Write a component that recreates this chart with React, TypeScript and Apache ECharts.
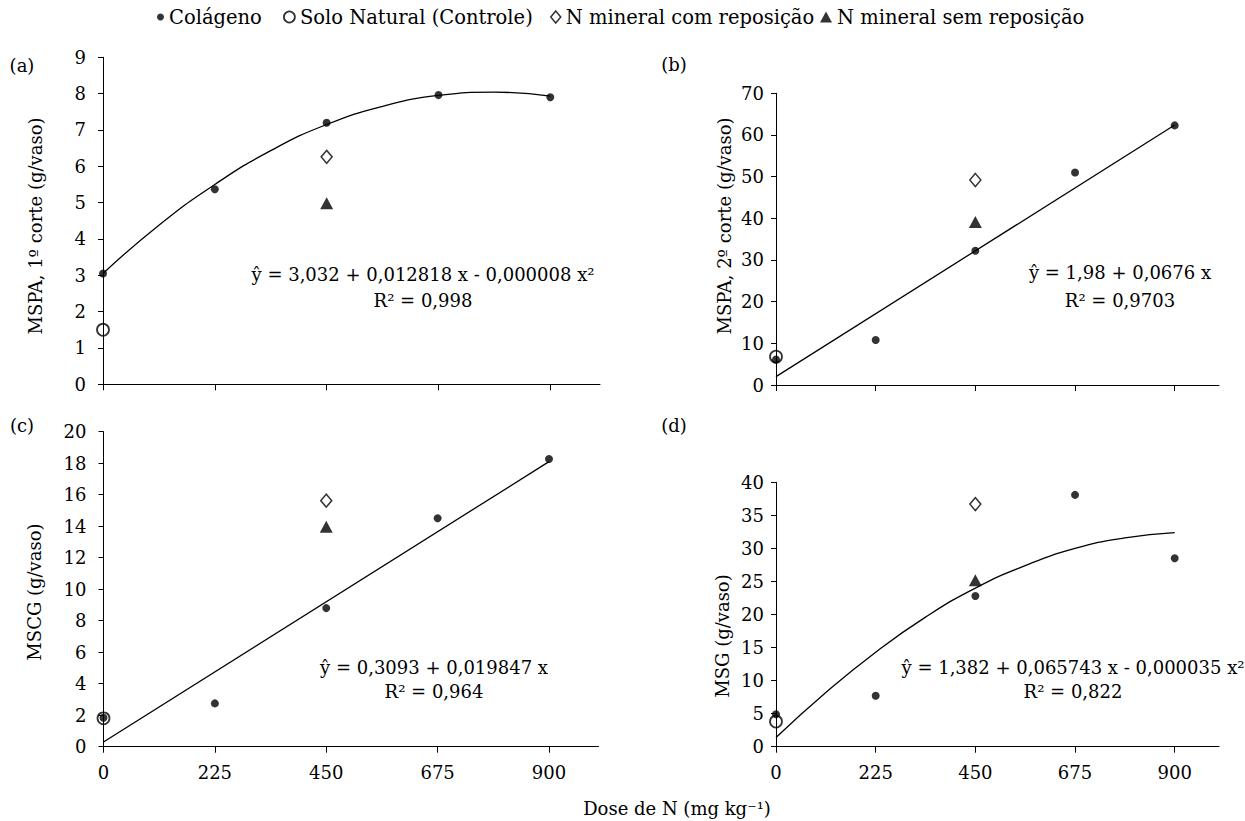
import React, { useEffect, useRef } from "react";
import * as echarts from "echarts";

// ---------- data ----------
const doses = [0, 225, 450, 675, 900];
const colagenoA = [3.05, 5.37, 7.2, 7.96, 7.9];
const colagenoB = [6.1, 10.8, 32.2, 51.0, 62.3];
const colagenoC = [1.84, 2.75, 8.8, 14.5, 18.27];
const colagenoD = [4.9, 7.7, 22.8, 38.1, 28.5];
const soloNatural = [1.5, 6.8, 1.8, 3.8]; // dose 0, panels a-d
const comReposicao = [6.26, 49.2, 15.62, 36.7]; // dose 450
const semReposicao = [4.98, 39.1, 13.97, 25.2]; // dose 450
const controlDose = 0;
const mineralDose = 450;

const trendDoses = [0, 112.5, 225, 337.5, 450, 562.5, 675, 787.5, 900];
const trendA = [3.05, 4.38, 5.5, 6.43, 7.15, 7.65, 7.95, 8.04, 7.93];
const trendD = [1.4, 8.2, 14.3, 19.6, 24.0, 27.4, 30.0, 31.6, 32.4];
const trendLinDoses = [0, 900];
const trendB = [2.0, 62.4];
const trendC = [0.3, 18.1];

const xTicks = [0, 225, 450, 675, 900];
const xMax = 1000;
const yMax = [9, 70, 20, 40];
const yStep = [1, 10, 2, 5];

const seriesNames = [
  "Colágeno",
  "Solo Natural (Controle)",
  "N mineral com reposição",
  "N mineral sem reposição",
];
const panelLetters = ["(a)", "(b)", "(c)", "(d)"];
const yNames = [
  "MSPA, 1º corte (g/vaso)",
  "MSPA, 2º corte (g/vaso)",
  "MSCG (g/vaso)",
  "MSG (g/vaso)",
];
const equations = [
  "ŷ = 3,032 + 0,012818 x - 0,000008 x²",
  "ŷ = 1,98 + 0,0676 x",
  "ŷ = 0,3093 + 0,019847 x",
  "ŷ = 1,382 + 0,065743 x - 0,000035 x²",
];
const r2Texts = ["R² = 0,998", "R² = 0,9703", "R² = 0,964", "R² = 0,822"];
const xTitle = "Dose de N (mg kg⁻¹)";

// ---------- layout ----------
const FONT = "DejaVu Serif";
const grids = [
  { left: 103, top: 57.3, width: 497, height: 327 },
  { left: 776, top: 93.3, width: 443, height: 291.7 },
  { left: 103.5, top: 431.7, width: 495, height: 315 },
  { left: 776, top: 482.3, width: 443, height: 264.4 },
];
const yLabelMargin = [17, 12, 17, 12];
const letterPos = [
  [22, 65],
  [674, 64],
  [22, 425],
  [674, 425],
];
const yNamePos = [
  [35, 226],
  [724, 226],
  [34, 592],
  [722, 636],
];
const eqPos = [
  [423, 274, 300],
  [1120, 272, 300],
  [434, 667, 691],
  [1073, 667, 691],
];
const legendLeft = [157, 283, 550, 820];
const legendSize = [
  [7, 7],
  [11, 11],
  [10, 12],
  [12, 11],
];

function pairs(xs: number[], ys: number[]) {
  return xs.map((x, i) => [x, ys[i]]);
}

export default function App() {
  const ref = useRef<HTMLDivElement>(null);

  useEffect(() => {
    if (!ref.current) return;
    const chart = echarts.init(ref.current, undefined, { renderer: "svg" });

    const colagenos = [colagenoA, colagenoB, colagenoC, colagenoD];
    const trends = [
      pairs(trendDoses, trendA),
      pairs(trendLinDoses, trendB),
      pairs(trendLinDoses, trendC),
      pairs(trendDoses, trendD),
    ];
    const smooths = [true, false, false, true];

    const styles = [
      { symbol: "circle", symbolSize: 8, itemStyle: { color: "#000" } },
      {
        symbol: "circle",
        symbolSize: 12,
        itemStyle: { color: "rgba(0,0,0,0)", borderColor: "#000", borderWidth: 1.8 },
      },
      {
        symbol: "diamond",
        symbolSize: [11, 13],
        itemStyle: { color: "#fff", borderColor: "#000", borderWidth: 1.5 },
      },
      { symbol: "triangle", symbolSize: [13, 12], itemStyle: { color: "#000" } },
    ];

    const series: any[] = [];
    for (let i = 0; i < 4; i++) {
      series.push({
        name: "trend" + i,
        type: "line",
        xAxisIndex: i,
        yAxisIndex: i,
        data: trends[i],
        smooth: smooths[i],
        showSymbol: false,
        symbol: "none",
        lineStyle: { color: "#000", width: 1.3 },
        z: 1,
        silent: true,
      });
      series.push({
        name: seriesNames[1],
        type: "scatter",
        xAxisIndex: i,
        yAxisIndex: i,
        data: [[controlDose, soloNatural[i]]],
        ...styles[1],
        z: 2,
      });
      series.push({
        name: seriesNames[2],
        type: "scatter",
        xAxisIndex: i,
        yAxisIndex: i,
        data: [[mineralDose, comReposicao[i]]],
        ...styles[2],
        z: 3,
      });
      series.push({
        name: seriesNames[3],
        type: "scatter",
        xAxisIndex: i,
        yAxisIndex: i,
        data: [[mineralDose, semReposicao[i]]],
        ...styles[3],
        z: 4,
      });
      series.push({
        name: seriesNames[0],
        type: "scatter",
        xAxisIndex: i,
        yAxisIndex: i,
        data: pairs(doses, colagenos[i]),
        ...styles[0],
        z: 5,
      });
    }

    const xAxis = grids.map((_, i) => ({
      type: "value",
      gridIndex: i,
      min: 0,
      max: xMax,
      axisLine: { show: true, lineStyle: { color: "#000", width: 1 } },
      axisTick: {
        show: true,
        customValues: xTicks,
        length: 6,
        lineStyle: { color: "#000", width: 1 },
      },
      axisLabel: {
        show: i >= 2,
        customValues: xTicks,
        fontSize: 18,
        fontFamily: FONT,
        color: "#000",
        margin: 17,
      },
      splitLine: { show: false },
    }));

    const yAxis = grids.map((_, i) => ({
      type: "value",
      gridIndex: i,
      min: 0,
      max: yMax[i],
      interval: yStep[i],
      axisLine: { show: true, lineStyle: { color: "#000", width: 1 } },
      axisTick: { show: true, length: 5, lineStyle: { color: "#000", width: 1 } },
      axisLabel: {
        fontSize: 18,
        fontFamily: FONT,
        color: "#000",
        margin: yLabelMargin[i],
      },
      splitLine: { show: false },
    }));

    const legendItemStyles = styles.map((s) => s.itemStyle);
    const legendIcons = ["circle", "circle", "diamond", "triangle"];
    const legend = seriesNames.map((n, i) => ({
      data: [{ name: n, icon: legendIcons[i], itemStyle: legendItemStyles[i] }],
      left: legendLeft[i],
      top: 7,
      padding: 0,
      itemWidth: legendSize[i][0],
      itemHeight: legendSize[i][1],
      selectedMode: false,
      textStyle: { fontSize: 19.5, fontFamily: FONT, color: "#000" },
    }));

    const txt = (x: number, y: number, text: string, extra: any = {}) => ({
      type: "text",
      x,
      y,
      silent: true,
      ...extra,
      style: {
        text,
        fill: "#000",
        font: `18px "${FONT}"`,
        align: "center",
        verticalAlign: "middle",
      },
    });

    const graphic: any[] = [];
    for (let i = 0; i < 4; i++) {
      graphic.push(txt(letterPos[i][0], letterPos[i][1], panelLetters[i]));
      graphic.push(
        txt(yNamePos[i][0], yNamePos[i][1], yNames[i], { rotation: Math.PI / 2 })
      );
      graphic.push(txt(eqPos[i][0], eqPos[i][1], equations[i]));
      graphic.push(txt(eqPos[i][0], eqPos[i][2], r2Texts[i]));
    }
    graphic.push(txt(677, 808, xTitle));

    chart.setOption({
      animation: false,
      backgroundColor: "#fff",
      textStyle: { fontFamily: FONT },
      grid: grids.map((g) => ({ ...g, containLabel: false })),
      xAxis,
      yAxis,
      legend,
      series,
      graphic,
    });

    return () => chart.dispose();
  }, []);

  return (
    <div
      ref={ref}
      style={{ position: "fixed", left: 0, top: 0, width: 1245, height: 821, background: "#fff" }}
    />
  );
}
